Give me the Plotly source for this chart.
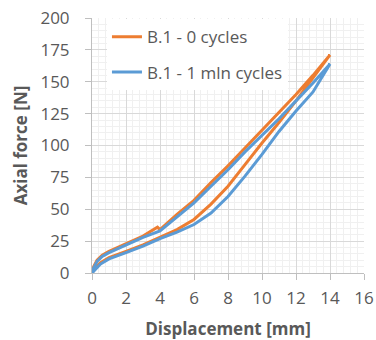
import plotly.graph_objects as go

# B.1 - 0 cycles : loading branch then unloading branch
x0_load = [0, 0.1, 0.3, 0.6, 1.0, 1.5, 2.0, 3.0, 3.85, 4.0, 5.0, 6.0, 7.0, 8.0, 9.0, 10.0, 11.0, 12.0, 13.0, 14.0]
y0_load = [0, 5, 10, 14, 17, 20, 23, 29, 36, 34, 46, 57, 71, 84, 98, 112, 126, 140, 155, 171]
x0_unload = [14, 13, 12, 11, 10, 9, 8, 7, 6, 5, 4, 3, 2, 1, 0.5, 0.2, 0]
y0_unload = [171, 153, 135, 118, 102, 85, 68, 54, 42, 34, 28, 22, 17, 12, 8, 4, 0]

# B.1 - 1 mln cycles
x1_load = [0, 0.1, 0.3, 0.6, 1.0, 1.5, 2.0, 3.0, 4.0, 5.0, 6.0, 7.0, 8.0, 9.0, 10.0, 11.0, 12.0, 13.0, 14.0]
y1_load = [0, 4, 9, 13, 16, 19, 22, 28, 33, 44, 55, 68, 81, 95, 108, 121, 135, 149, 164]
x1_unload = [14, 13, 12, 11, 10, 9, 8, 7, 6, 5, 4, 3, 2, 1, 0.5, 0.2, 0]
y1_unload = [164, 142, 127, 111, 93, 76, 60, 47, 38, 32, 27, 21, 16, 11, 7, 3, 0]

names = ["B.1 - 0 cycles", "B.1 - 1 mln cycles"]
colors = ["#ED7D31", "#5B9BD5"]

x_ticks = [0, 2, 4, 6, 8, 10, 12, 14, 16]
y_ticks = [0, 25, 50, 75, 100, 125, 150, 175, 200]

FONT = "Open Sans"
TXT = "#595959"

fig = go.Figure()
fig.add_trace(go.Scatter(x=x0_load + x0_unload, y=y0_load + y0_unload, mode="lines",
                         name=names[0], line=dict(color=colors[0], width=3), legendgroup="a"))
fig.add_trace(go.Scatter(x=x1_load + x1_unload, y=y1_load + y1_unload, mode="lines",
                         name=names[1], line=dict(color=colors[1], width=3), legendgroup="b"))

axis_common = dict(
    showgrid=True, gridcolor="#D9D9D9", gridwidth=1,
    showline=True, linecolor="#BFBFBF", linewidth=1,
    ticks="outside", ticklen=6, tickcolor="#BFBFBF",
    tickfont=dict(family=FONT, size=17, color=TXT),
    zeroline=False, automargin=False,
)

fig.update_xaxes(range=[0, 16], tickvals=x_ticks, ticklabelstandoff=4, **axis_common,
                 minor=dict(showgrid=True, gridcolor="#F0F0F0", gridwidth=1, dtick=0.4, tick0=0),
                 title=dict(text="<b>Displacement [mm]</b>", font=dict(family=FONT, size=17, color=TXT), standoff=16))
fig.update_yaxes(range=[0, 200], tickvals=y_ticks, ticklabelstandoff=12, **axis_common,
                 minor=dict(showgrid=True, gridcolor="#F0F0F0", gridwidth=1, dtick=5, tick0=0),
                 title=dict(text="<b>Axial force [N]</b>", font=dict(family=FONT, size=17, color=TXT), standoff=8))

fig.update_layout(
    width=376, height=340,
    margin=dict(l=92, r=12, t=18, b=67),
    plot_bgcolor="white", paper_bgcolor="white",
    font=dict(family=FONT, color=TXT),
    showlegend=True,
    legend=dict(x=0.055, y=0.995, xanchor="left", yanchor="top",
                bgcolor="white", borderwidth=0,
                font=dict(family=FONT, size=17, color=TXT),
                tracegroupgap=10),
)

fig.write_html("out.html")
